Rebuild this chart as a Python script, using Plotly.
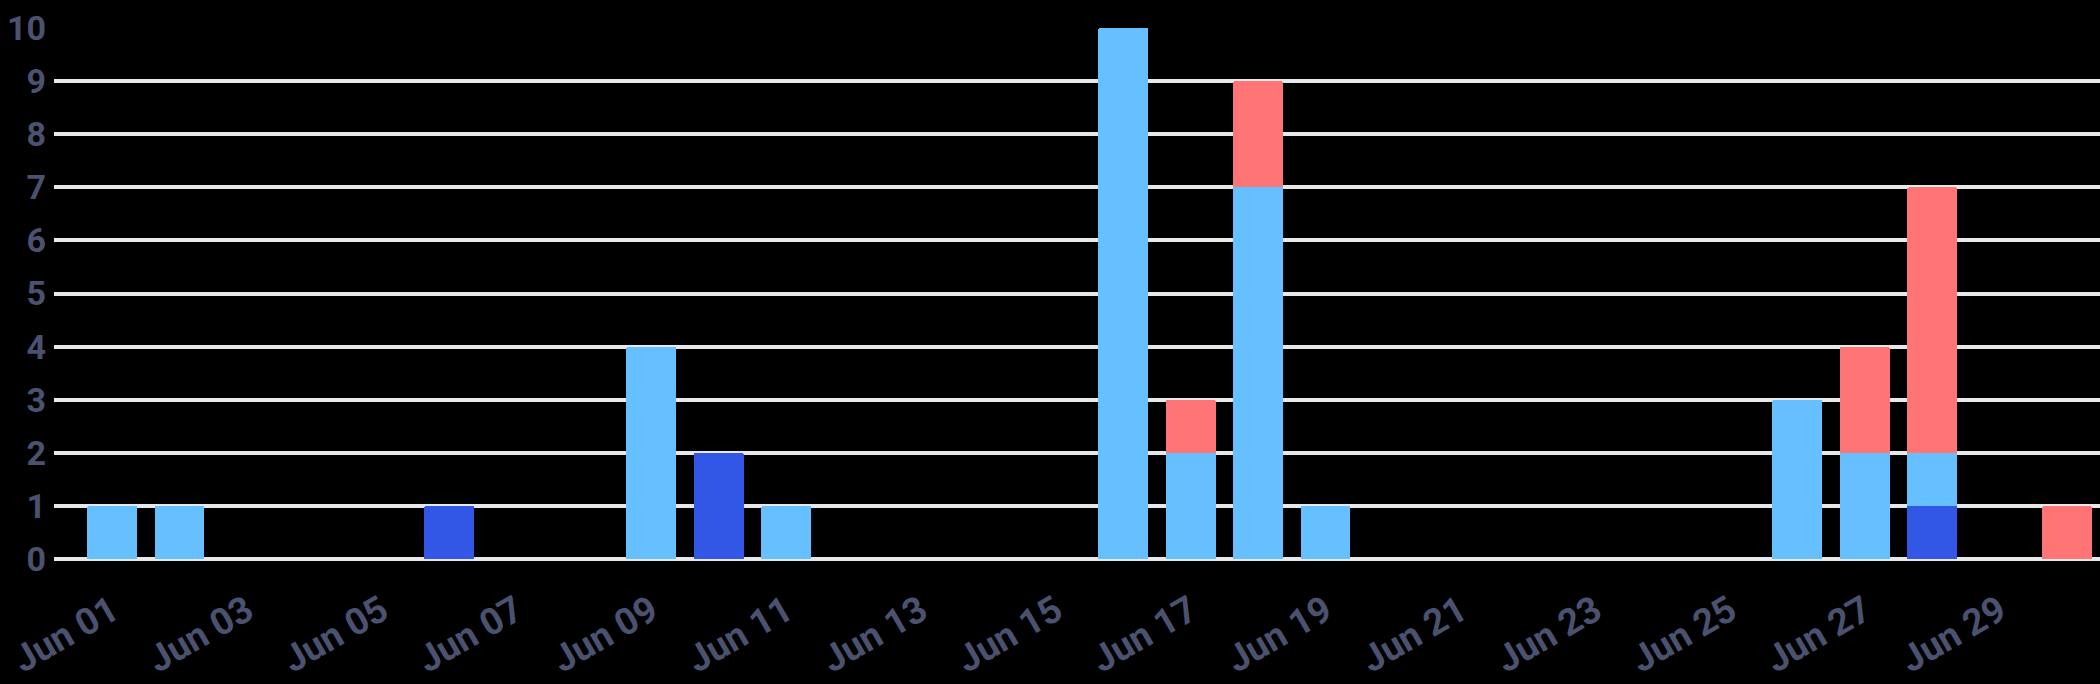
import plotly.graph_objects as go

dates = ["2023-06-01", "2023-06-02", "2023-06-06", "2023-06-09", "2023-06-10",
         "2023-06-11", "2023-06-16", "2023-06-17", "2023-06-18", "2023-06-19",
         "2023-06-26", "2023-06-27", "2023-06-28", "2023-06-30"]
dark_blue = [0, 0, 1, 0, 2, 0, 0, 0, 0, 0, 0, 0, 1, 0]
light_blue = [1, 1, 0, 4, 0, 1, 10, 2, 7, 1, 3, 2, 1, 0]
red = [0, 0, 0, 0, 0, 0, 0, 1, 2, 0, 0, 2, 5, 1]

series = [("Dark", dark_blue, "#3256e6"),
          ("Light", light_blue, "#66bfff"),
          ("Red", red, "#ff7474")]

DAY = 86400000
fig = go.Figure()
for name, vals, color in series:
    fig.add_trace(go.Bar(
        x=dates, y=vals, name=name, marker_color=color,
        marker_line_width=0, width=0.74 * DAY, marker_cornerradius=2,
    ))

fig.update_layout(
    barmode="stack",
    width=2100, height=684,
    paper_bgcolor="black", plot_bgcolor="black",
    margin=dict(l=54, r=0, t=28, b=125),
    showlegend=False,
    font=dict(family="Roboto", color="#4b5270", size=33, weight="bold"),
)
fig.update_xaxes(
    type="date",
    range=["2023-05-31 03:20", "2023-06-30 11:45"],
    tick0="2023-06-01", dtick=2 * DAY, tickformat="%b %d",
    tickangle=-30, showgrid=False, zeroline=False, showline=False,
    ticklabelstandoff=22,
    tickfont=dict(family="Roboto", size=37, color="#4b5270", weight="bold"),
)
fig.update_yaxes(
    range=[0, 10], dtick=1, showgrid=True, gridcolor="#e5e9ec", gridwidth=4,
    zeroline=True, zerolinecolor="#e5e9ec", zerolinewidth=4, showline=False,
    ticklabelstandoff=7,
    tickfont=dict(family="Roboto", size=34, color="#4b5270", weight="bold"),
)
fig.write_html(
    "out.html",
    config={"displayModeBar": False},
    post_script="document.body.style.margin='0';document.body.style.background='black';",
)
